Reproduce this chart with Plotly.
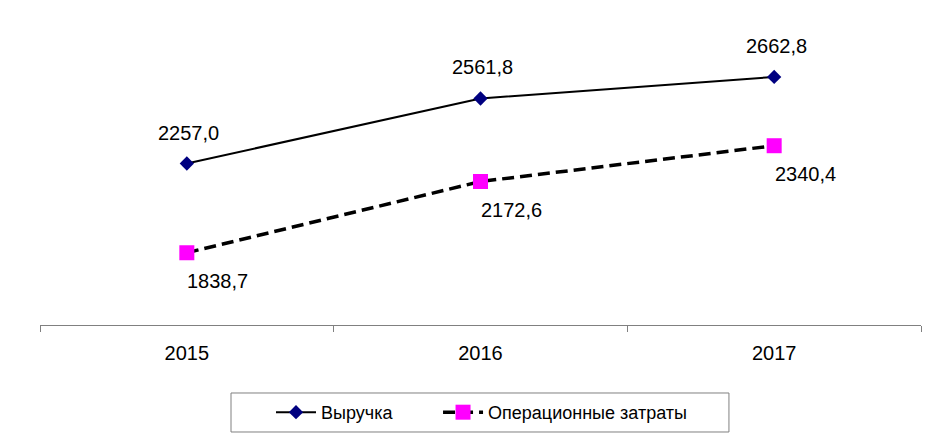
import plotly.graph_objects as go

years = ["2015", "2016", "2017"]
revenue = [2257.0, 2561.8, 2662.8]
costs = [1838.7, 2172.6, 2340.4]
revenue_labels = ["2257,0", "2561,8", "2662,8"]
costs_labels = ["1838,7", "2172,6", "2340,4"]

FONT = "Liberation Sans, Arial, sans-serif"

fig = go.Figure()
fig.add_trace(go.Scatter(
    x=years, y=revenue, name="Выручка", mode="lines+markers",
    line=dict(color="black", width=2),
    marker=dict(symbol="diamond", size=11, color="#000080"),
    legend="legend",
))
fig.add_trace(go.Scatter(
    x=years, y=costs, name="Операционные затраты", mode="lines+markers",
    line=dict(color="black", width=3.5, dash="12px,6px"),
    marker=dict(symbol="square", size=15, color="#FF00FF"),
    legend="legend2",
))

annotations = []
for i, (y, t) in enumerate(zip(revenue, revenue_labels)):
    annotations.append(dict(x=i, y=y, text=t, showarrow=False, xshift=2, yshift=31,
                            font=dict(family=FONT, size=20, color="black")))
for i, (y, t) in enumerate(zip(costs, costs_labels)):
    annotations.append(dict(x=i, y=y, text=t, showarrow=False, xshift=31, yshift=-28,
                            font=dict(family=FONT, size=20, color="black")))

# legend frame (page has an 8px body offset)
fig.add_shape(type="rect", xref="paper", yref="paper",
              x0=0.2168, x1=0.782, y0=-0.3375, y1=-0.2145,
              line=dict(color="#808080", width=1), fillcolor="rgba(0,0,0,0)")

legend_common = dict(orientation="h", y=-0.276, yanchor="middle", xanchor="left",
                     borderwidth=0, bgcolor="rgba(0,0,0,0)",
                     font=dict(family=FONT, size=18, color="black"), itemwidth=40)

fig.update_layout(
    width=927, height=434,
    margin=dict(l=32, r=14, t=0, b=117),
    paper_bgcolor="white", plot_bgcolor="white",
    font=dict(family=FONT, size=19, color="black"),
    showlegend=True,
    legend=dict(x=0.2622, **legend_common),
    legend2=dict(x=0.4518, **legend_common),
    annotations=annotations,
    xaxis=dict(type="category", range=[-0.5, 2.5], showgrid=False, zeroline=False,
               showline=True, linecolor="#808080", linewidth=1,
               ticks="outside", tickson="boundaries", ticklen=6, tickcolor="#808080",
               ticklabelstandoff=10, tickangle=0,
               tickfont=dict(family=FONT, size=20, color="black")),
    yaxis=dict(visible=False, range=[1500, 2986]),
)

fig.write_html("out.html")
